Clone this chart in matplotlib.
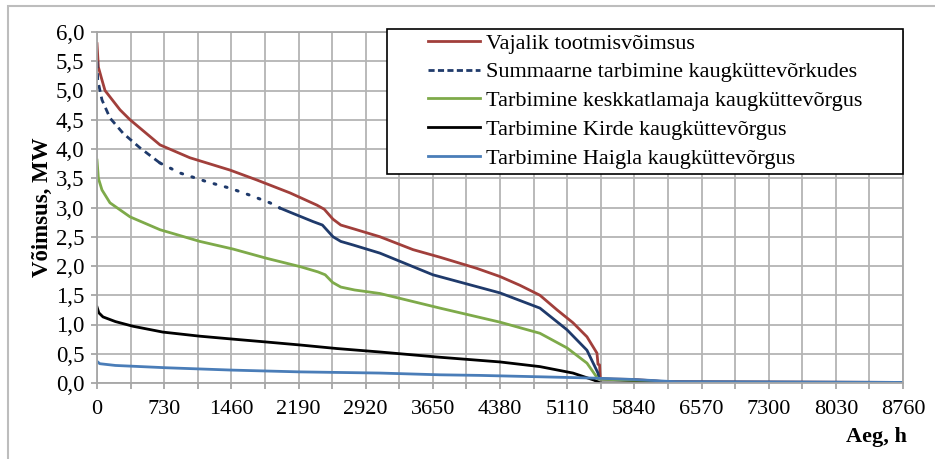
import matplotlib
matplotlib.use("Agg")
import matplotlib.pyplot as plt
from matplotlib.patches import Rectangle
from matplotlib.lines import Line2D

plt.rcParams['font.family'] = ['Liberation Serif', 'DejaVu Serif']

# data (hours, MW)
h_vaj = [0, 15, 54, 87, 250, 359, 685, 1010, 1445, 1738, 2097, 2391, 2470,
         2565, 2650, 2800, 3075, 3434, 3728, 4127, 4380, 4597, 4814, 5000, 5173, 5325, 5434,
         5445, 5462, 5470, 5840, 6200, 8760]
p_vaj = [5.80, 5.40, 5.18, 5.00, 4.67, 4.50, 4.07, 3.85, 3.64, 3.47, 3.25, 3.04, 2.97,
         2.80, 2.70, 2.63, 2.50, 2.28, 2.15, 1.96, 1.82, 1.67, 1.50, 1.25, 1.03, 0.79, 0.51,
         0.32, 0.31, 0.07, 0.06, 0.02, 0.01]

h_sum = [0, 8, 54, 141, 283, 467, 685, 902, 1195, 1445, 1663, 1880, 1989, 2097, 2347, 2450, 2565,
         2650, 2782, 3075, 3650, 4380, 4814, 5108, 5325, 5445, 5456, 5840, 6200, 8760]
p_sum = [5.50, 5.18, 4.84, 4.53, 4.27, 4.02, 3.76, 3.59, 3.44, 3.33, 3.21, 3.08, 2.99, 2.92, 2.76, 2.70, 2.50,
         2.42, 2.36, 2.22, 1.85, 1.54, 1.28, 0.91, 0.56, 0.17, 0.07, 0.05, 0.02, 0.01]

h_kesk = [0, 15, 54, 141, 359, 685, 902, 1119, 1478, 1847, 2206, 2400, 2480, 2560,
          2650, 2800, 3075, 3728, 4380, 4814, 5108, 5325, 5445, 5840, 6200, 8760]
p_kesk = [3.81, 3.50, 3.30, 3.08, 2.84, 2.62, 2.52, 2.42, 2.29, 2.13, 1.99, 1.90, 1.85, 1.72,
          1.64, 1.59, 1.53, 1.28, 1.04, 0.85, 0.60, 0.34, 0.07, 0.04, 0.01, 0.0]

h_kirde = [0, 20, 65, 200, 391, 717, 1119, 1478, 1847, 2206, 2600, 3075, 3728, 4380, 4814,
           5173, 5400, 5470, 8760]
p_kirde = [1.30, 1.20, 1.13, 1.05, 0.97, 0.87, 0.80, 0.75, 0.70, 0.65, 0.59, 0.53, 0.44, 0.36, 0.28,
           0.17, 0.05, 0.0, 0.0]

h_haigla = [0, 30, 200, 761, 1478, 2206, 3075, 3728, 4162, 5249, 5467, 5840, 6300, 8760]
p_haigla = [0.37, 0.33, 0.30, 0.26, 0.22, 0.19, 0.17, 0.14, 0.13, 0.09, 0.08, 0.06, 0.02, 0.01]

labels = ["Vajalik tootmisvõimsus",
          "Summaarne tarbimine kaugküttevõrkudes",
          "Tarbimine keskkatlamaja kaugküttevõrgus",
          "Tarbimine Kirde kaugküttevõrgus",
          "Tarbimine Haigla kaugküttevõrgus"]
colors = ['#A13F3B', '#1F3A6B', '#7EAA4A', '#000000', '#4A7DB8']

x_ticks = [0, 730, 1460, 2190, 2920, 3650, 4380, 5110, 5840, 6570, 7300, 8030, 8760]
y_ticks = [0.0, 0.5, 1.0, 1.5, 2.0, 2.5, 3.0, 3.5, 4.0, 4.5, 5.0, 5.5, 6.0]
y_ticklabels = ['0,0', '0,5', '1,0', '1,5', '2,0', '2,5', '3,0', '3,5', '4,0', '4,5', '5,0', '5,5', '6,0']

fig = plt.figure(figsize=(9.35, 4.59), dpi=100)
ax = fig.add_axes([97/935, 76/459, 806/935, 351/459])

lw = 2.0
ax.plot(h_vaj, p_vaj, color=colors[0], lw=lw)
# Excel draws the dashed part first, then it turns to dots and finally solid
i_dot = h_sum.index(685)
i_sol = h_sum.index(1989)
ax.plot(h_sum[:i_dot + 1], p_sum[:i_dot + 1], color=colors[1], lw=lw, dashes=(2.5, 1.8))
ax.plot(h_sum[i_dot:i_sol + 1], p_sum[i_dot:i_sol + 1], color=colors[1], lw=lw * 1.1,
        dashes=(0.6, 3.2), dash_capstyle='round')
ax.plot(h_sum[i_sol:], p_sum[i_sol:], color=colors[1], lw=lw)
ax.plot(h_kesk, p_kesk, color=colors[2], lw=lw)
ax.plot(h_kirde, p_kirde, color=colors[3], lw=lw)
ax.plot(h_haigla, p_haigla, color=colors[4], lw=lw)

ax.set_xlim(0, 8760)
ax.set_ylim(0, 6)
ax.set_xticks(x_ticks)
ax.set_xticks([t + 365 for t in x_ticks[:-1]], minor=True)
ax.set_yticks(y_ticks)
ax.set_yticklabels(y_ticklabels)
ax.grid(True, which='both', color='#B4B4B4', lw=1.3)
ax.set_axisbelow(True)
for s in ax.spines.values():
    s.set_color('#A6A6A6')
    s.set_linewidth(1.3)
ax.tick_params(which='both', direction='out', length=4, width=1.3, color='#A6A6A6')
ax.tick_params(axis='x', labelsize=16, pad=8)
ax.tick_params(axis='y', labelsize=16.5, pad=5)

ax.set_ylabel("Võimsus, MW", fontsize=16.5, fontweight='bold', labelpad=2)
fig.text(907/935, 1 - 437/459, "Aeg, h", fontsize=16, fontweight='bold', ha='right', va='center')

# legend frame drawn separately: Excel leaves a wide empty gap left of the keys
fig.add_artist(Rectangle((387/935, 1 - 174/459), 516/935, 145/459, transform=fig.transFigure,
                         facecolor='white', edgecolor='black', lw=1.2, zorder=3))
handles = [Line2D([], [], color=colors[0], lw=lw),
           Line2D([], [], color=colors[1], lw=lw, dashes=(2.2, 1.2)),
           Line2D([], [], color=colors[2], lw=lw),
           Line2D([], [], color=colors[3], lw=lw),
           Line2D([], [], color=colors[4], lw=lw)]
leg = fig.legend(handles, labels, loc='upper left', bbox_to_anchor=(428/935, 1 - 33/459),
                 fontsize=16, frameon=False, borderaxespad=0, borderpad=0,
                 handlelength=2.35, handletextpad=0.27, labelspacing=0.37)
leg.set_zorder(4)

# outer chart border (left and top are visible)
fig.add_artist(Rectangle((7.5/935, -0.1), 1.2, 1.1 - 6.5/459, transform=fig.transFigure,
                         fill=False, edgecolor='#BDBDBD', lw=1.5))

fig.savefig("out.png", dpi=100)
